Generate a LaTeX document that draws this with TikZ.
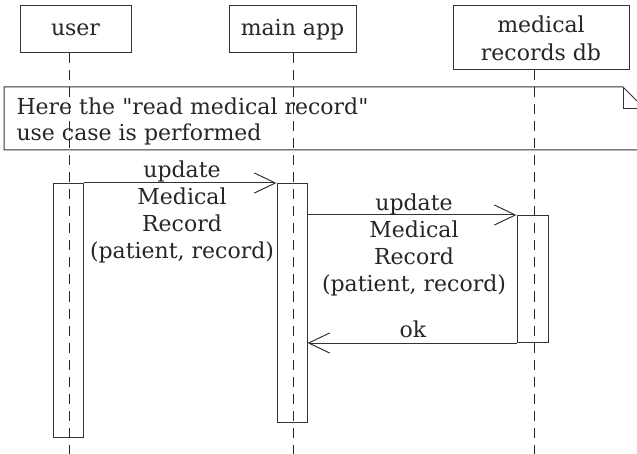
\documentclass[tikz,border=0pt]{standalone}
\usepackage{fontspec}
\setmainfont{DejaVu Serif}
\usetikzlibrary{arrows.meta,positioning,calc}

\begin{document}
\begin{tikzpicture}[
  x=1pt, y=-1pt,
  line width=1pt, draw=black!80,
  lifeline/.style={draw=black!85, dash pattern=on 10pt off 7pt},
  msg/.style={draw=black!80, -{Straight Barb[length=21pt,width=20pt]}},
  msglabel/.style={inner sep=0pt, align=center, text=black!85, font=\fontsize{22}{27}\selectfont}
]
	\tikzstyle{actor} = [rectangle, draw=black!80, inner sep=0pt, minimum height=47pt, text centered, text=black!85, align=center, font=\fontsize{22}{28}\selectfont]
	\tikzstyle{activation} = [rectangle, draw=black!80, inner sep=0pt, minimum width=30pt]

	\useasboundingbox (0,0) rectangle (637,454);

	\node (user) [actor, minimum width=111pt] at (75.5,29.5) {user};
	\node (mainApp) [actor, minimum width=127pt] at (292.5,29.5) {main app};
	\node (recordsDb) [actor, minimum width=176pt, minimum height=64pt] at (541,38) {medical\\records db};

	\draw (4,87) -- (623,87) -- (645,109) -- (645,150) -- (4,150) -- cycle;
	\draw (623,87) -- (623,109) -- (645,109);
	\node (noteText) [msglabel, align=left, font=\fontsize{22}{26}\selectfont, anchor=north west] at (16,97) {Here the \textquotedbl read medical record\textquotedbl\\use case is performed};

	\node (userAct) [activation, minimum height=254pt, anchor=north] at (68,183) {};
	\node (mainAppAct) [activation, minimum height=239pt, anchor=north] at (292,183) {};
	\node (recordsDbAct) [activation, minimum width=31pt, minimum height=127pt, anchor=north] at (532.5,215) {};

	\coordinate (userEnd) at (69,454);
	\coordinate (mainAppEnd) at (293,454);
	\coordinate (recordsDbEnd) at (534,454);
	\draw[lifeline] (user.south -| userEnd) -- (userEnd);
	\draw[lifeline] (mainApp.south -| mainAppEnd) -- (mainAppEnd);
	\draw[lifeline] (recordsDb.south -| recordsDbEnd) -- (recordsDbEnd);

	\draw[msg] (userAct.north east) -- (mainAppAct.north west);
	\node (updateA) [msglabel, anchor=north] at (182,160) {update\\Medical\\Record\\(patient, record)};

	\draw[msg] (mainAppAct.east |- recordsDbAct.north) -- (recordsDbAct.north west);
	\node (updateB) [msglabel, anchor=north] at (414,193) {update\\Medical\\Record\\(patient, record)};

	\draw[msg] (recordsDbAct.south west) -- (recordsDbAct.south west -| mainAppAct.east);
	\node (ok) [msglabel, anchor=base] at (413,337) {ok};
\end{tikzpicture}
\end{document}
